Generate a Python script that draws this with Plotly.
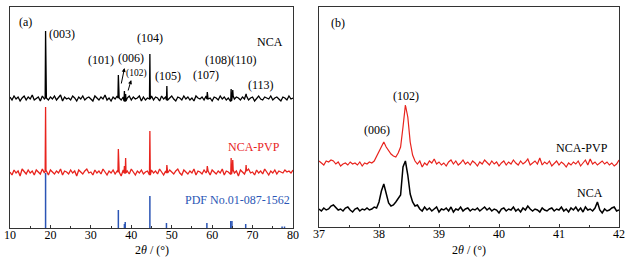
import numpy as np
import plotly.graph_objects as go

# ---------------- Panel (a) data ----------------
a_grid_start, a_grid_step = 10.0, 0.5
nca_base = [131,128,132,129,131,127,130,132,128,131,129,133,128,130,131,127,132,129,130,128,
131,129,132,128,130,133,127,131,129,130,128,132,130,127,131,129,132,128,130,131,
129,127,132,130,128,131,129,133,128,130,127,131,129,132,130,128,131,127,130,132,
128,131,129,130,132,127,131,128,130,129,132,128,131,130,127,132,129,131,128,130,
132,129,127,131,130,128,132,129,131,128,130,127,132,130,129,131,128,132,129,130,
127,131,130,128,132,129,131,128,130,127,132,129,131,130,128,131,129,132,128,130,
131,127,130,132,129,128,131,130,129,132,128,130,131,129,127,131,130,128,132,129,
130]
pvp_base = [56,53,58,55,57,52,59,56,54,58,55,57,53,58,56,54,59,55,57,53,
58,56,54,57,55,59,53,57,56,54,58,55,57,52,58,56,54,57,59,55,
56,53,58,55,57,54,59,56,53,57,55,58,54,57,56,52,58,55,57,54,
59,56,53,57,55,58,54,56,57,53,58,55,57,54,59,56,53,57,55,58,
56,54,57,59,55,53,58,56,54,57,55,59,53,57,56,54,58,55,57,53,
58,56,54,57,55,59,53,57,56,54,58,55,57,52,58,56,54,57,59,55,
56,53,58,55,57,54,59,56,53,57,55,58,54,57,56,55,58,56,57,55,
58]
peak_pos = [18.8, 36.8, 38.3, 38.6, 44.6, 48.8, 58.8, 64.7, 65.1, 68.4]
nca_peak_top = [197, 153, 137, 134, 174, 142, 136, 139, 138, 134]
pvp_peak_top = [121, 79, 62, 70, 97, 63, 62, 70, 68, 63]

pdf_pos = [18.8, 36.8, 38.3, 38.5, 44.6, 48.7, 58.7, 64.6, 64.9, 68.3, 77.3, 77.9]
pdf_height = [55, 18, 4, 6, 32, 5, 5, 7, 7, 4, 1.5, 1.5]

# ---------------- Panel (b) data ----------------
b_x = [round(37 + 0.04 * i, 2) for i in range(126)]
nca_zoom = [18,16,19,17,18,21,22,19,17,18,
16,19,20,17,15,18,19,16,18,17,
19,17,18,20,19,25,36,43,34,24,
21,22,25,28,32,60,66,52,33,25,
21,22,18,16,20,17,19,16,18,20,
15,18,17,19,16,20,15,18,17,20,
16,18,19,16,18,17,19,16,18,20,
17,19,16,18,17,14,18,19,16,18,
17,20,16,18,15,19,17,21,18,16,
18,17,15,19,17,16,18,19,16,18,
17,20,16,18,15,19,17,20,16,19,
15,20,17,18,16,19,25,17,14,18,
16,17,19,20,16,17]
pvp_zoom = [66,64,62,66,65,67,66,63,65,61,
63,64,62,65,63,64,62,65,61,64,
63,65,64,66,71,75,81,85,80,76,
73,71,70,74,80,100,122,110,85,72,
66,63,66,60,64,62,66,64,68,63,
65,62,64,61,65,67,63,66,62,64,
67,63,65,62,66,64,61,65,63,67,
64,62,66,63,65,61,64,66,62,65,
63,67,64,62,66,63,65,68,62,64,
66,63,69,62,65,63,66,61,64,66,
62,65,63,60,64,62,65,63,66,61,
64,67,62,68,63,65,62,64,66,63,
65,62,64,61,63,67]

# ---------------- geometry ----------------
W, H = 632, 261
def fx(px):
    return px / W
def fy(py):
    return 1 - py / H

# ---------------- build panel (a) traces ----------------
grid = [a_grid_start + a_grid_step * i for i in range(len(nca_base))]

def with_peaks(base, tops):
    pts = list(zip(grid, base))
    for p, t in zip(peak_pos, tops):
        k = int(round((p - a_grid_start) / a_grid_step))
        foot = base[k]
        pts += [(p - 0.1, foot), (p, t), (p + 0.1, foot)]
    pts.sort(key=lambda q: q[0])
    return [q[0] for q in pts], [q[1] for q in pts]

RED = "#e8231d"
BLUE = "#2b55b5"
FONT = "Liberation Serif"

fig = go.Figure()
nx, ny = with_peaks(nca_base, nca_peak_top)
px_, py_ = with_peaks(pvp_base, pvp_peak_top)
fig.add_trace(go.Scatter(x=nx, y=ny, mode="lines", line=dict(color="black", width=1.3),
                         xaxis="x", yaxis="y", showlegend=False))
fig.add_trace(go.Scatter(x=px_, y=py_, mode="lines", line=dict(color=RED, width=1.3),
                         xaxis="x", yaxis="y", showlegend=False))
sx, sy = [], []
for p, h in zip(pdf_pos, pdf_height):
    sx += [p, p, None]
    sy += [0, h, None]
fig.add_trace(go.Scatter(x=sx, y=sy, mode="lines", line=dict(color=BLUE, width=1.5),
                         xaxis="x", yaxis="y", showlegend=False))

fig.add_trace(go.Scatter(x=b_x, y=nca_zoom, mode="lines", line=dict(color="black", width=1.5),
                         xaxis="x2", yaxis="y2", showlegend=False))
fig.add_trace(go.Scatter(x=b_x, y=pvp_zoom, mode="lines", line=dict(color=RED, width=1.2),
                         xaxis="x2", yaxis="y2", showlegend=False))

axis_common = dict(showline=True, linecolor="#333333", linewidth=1, mirror=True,
                   ticks="inside", ticklen=3, tickcolor="#333333", showgrid=False,
                   zeroline=False, automargin=False, ticklabelstandoff=-4,
                   ticklabeloverflow="allow",
                   tickfont=dict(family=FONT, size=12, color="black"))
yaxis_common = dict(showline=True, linecolor="#333333", linewidth=1, mirror=True,
                    showticklabels=False, ticks="", showgrid=False, zeroline=False,
                    automargin=False)
TOP = 7
fig.update_layout(
    width=W, height=H, margin=dict(l=0, r=0, t=0, b=0, autoexpand=False),
    paper_bgcolor="white", plot_bgcolor="white",
    xaxis=dict(domain=[fx(10), fx(293)], range=[10, 80], dtick=10, anchor="y",
               minor=dict(dtick=5, ticks="inside", ticklen=2, tickcolor="#333333"),
               **axis_common),
    yaxis=dict(domain=[fy(228), fy(TOP)], range=[0, 228 - TOP], anchor="x", **yaxis_common),
    xaxis2=dict(domain=[fx(319), fx(619)], range=[37, 42], dtick=1, anchor="y2",
                minor=dict(dtick=0.5, ticks="inside", ticklen=2, tickcolor="#333333"),
                **axis_common),
    yaxis2=dict(domain=[fy(227), fy(TOP)], range=[0, 227 - TOP], anchor="x2", **yaxis_common),
)

def lab(text, x, y, ax="x", ay="y", color="black", size=12):
    fig.add_annotation(text=text, x=x, y=y, xref=ax, yref=ay, showarrow=False,
                       xanchor="center", yanchor="middle",
                       font=dict(family=FONT, size=size, color=color))

# axis titles
for cx in [(fx(10) + fx(293)) / 2, (fx(319) + fx(619)) / 2]:
    fig.add_annotation(text="2<i>θ</i> / (°)", x=cx, y=fy(250), xref="paper", yref="paper",
                       showarrow=False, xanchor="center", yanchor="middle",
                       font=dict(family=FONT, size=12, color="black"))

lab("(a)", 13.9, 206)
lab("(003)", 22.9, 194)
lab("(104)", 44.6, 190)
lab("NCA", 74.4, 186)
lab("(101)", 32.4, 168)
lab("(006)", 39.9, 170)
lab("(102)", 41.4, 155, size=9.5)
lab("(105)", 49.1, 152)
lab("(107)", 58.4, 153)
lab("(108)(110)", 64.6, 168)
lab("(113)", 72.0, 143)
lab("NCA-PVP", 70.4, 81, color=RED)
lab("PDF No.01-087-1562", 66.2, 28, color=BLUE)

# arrows (tip in data coords, tail offset in px)
fig.add_annotation(x=10 + (124 - 9.3) / 4.05, y=228 - 68, xref="x", yref="y", text="",
                   showarrow=True, arrowhead=2, arrowsize=0.8, arrowwidth=1, arrowcolor="black",
                   ax=-3.5, ay=17)
fig.add_annotation(x=10 + (130.7 - 9.3) / 4.05, y=228 - 80, xref="x", yref="y", text="",
                   showarrow=True, arrowhead=2, arrowsize=0.8, arrowwidth=1, arrowcolor="black",
                   ax=-3.5, ay=12)

lab("(b)", 37.32, 204, "x2", "y2")
lab("(102)", 38.45, 131, "x2", "y2")
lab("(006)", 37.96, 97, "x2", "y2")
lab("NCA-PVP", 41.39, 79, "x2", "y2")
lab("NCA", 41.52, 34, "x2", "y2")

fig.write_html("out.html", config={"displayModeBar": False},
               post_script="document.body.style.margin='0';")
